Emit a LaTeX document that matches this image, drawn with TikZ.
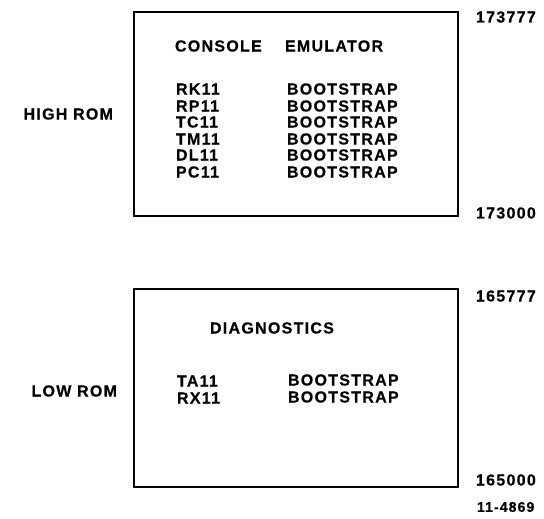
\documentclass[tikz,border=0pt]{standalone}
\usepackage{fontspec}
\setmainfont{Liberation Sans}[LetterSpace=8,BoldFeatures={FakeBold=0.5}]
\usepackage{tikz}

\begin{document}
\begin{tikzpicture}[x=1pt,y=-1pt,every node/.style={inner sep=0pt, outer sep=0pt, anchor=west, font=\fontsize{16}{16}\selectfont\bfseries}]
\useasboundingbox (0,0) rectangle (544,519);

% rom boxes
\draw[line width=2.4pt] (134,12) rectangle (458,216);
\draw[line width=2.4pt] (134,289) rectangle (458,487);

% high rom
\node[anchor=east] (high) at (113,114) {HIGH ROM};
\node (cons) at (175,46) {CONSOLE};
\node (emul) at (285,46) {EMULATOR};
\node (rk) at (176,89) {RK11};
\node (rp) at (176,106) {RP11};
\node (tc) at (176,122) {TC11};
\node (tm) at (176,139) {TM11};
\node (dl) at (176,155) {DL11};
\node (pc) at (176,172) {PC11};
\node (rkb) at (287,89) {BOOTSTRAP};
\node (rpb) at (287,106) {BOOTSTRAP};
\node (tcb) at (287,122) {BOOTSTRAP};
\node (tmb) at (287,139) {BOOTSTRAP};
\node (dlb) at (287,155) {BOOTSTRAP};
\node (pcb) at (287,172) {BOOTSTRAP};
\node (hitop) at (476,17) {173777};
\node (hibot) at (476,213) {173000};

% low rom
\node[anchor=east] (low) at (117,391) {LOW ROM};
\node (diag) at (210,328) {DIAGNOSTICS};
\node (ta) at (177,381) {TA11};
\node (rx) at (177,398) {RX11};
\node (tab) at (288,380) {BOOTSTRAP};
\node (rxb) at (288,397) {BOOTSTRAP};
\node (lotop) at (476,296) {165777};
\node (lobot) at (476,480) {165000};

\node[font=\fontsize{14}{14}\selectfont\bfseries] (fig) at (477,507) {11-4869};
\end{tikzpicture}
\end{document}
